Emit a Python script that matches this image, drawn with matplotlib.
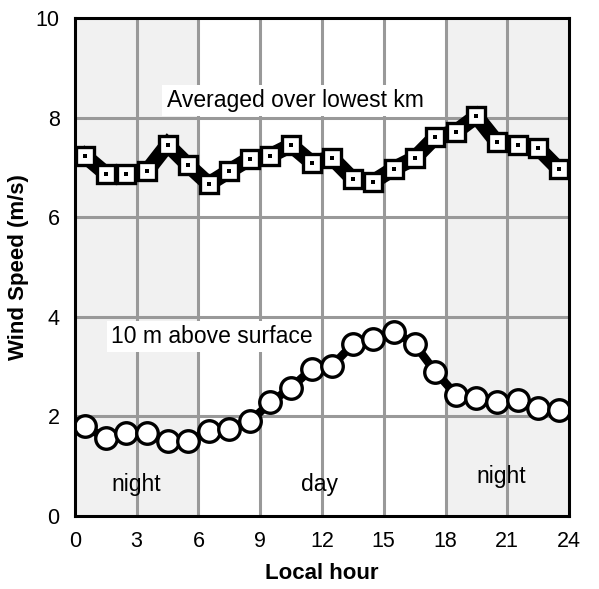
import numpy as np
import matplotlib.pyplot as plt

plt.rcParams['font.family'] = ['Liberation Sans', 'DejaVu Sans']

hours = np.arange(0.5, 24, 1.0)
avg_km = [7.23, 6.88, 6.88, 6.93, 7.46, 7.05, 6.67, 6.93, 7.18, 7.24, 7.45, 7.10,
          7.19, 6.77, 6.72, 6.98, 7.19, 7.61, 7.72, 8.03, 7.51, 7.45, 7.39, 6.97]
surface_10m = [1.80, 1.56, 1.66, 1.66, 1.50, 1.50, 1.70, 1.75, 1.90, 2.28, 2.58, 2.95,
               3.02, 3.45, 3.55, 3.70, 3.45, 2.90, 2.44, 2.38, 2.29, 2.33, 2.17, 2.12]
night_spans = [(0, 6), (18, 24)]
xticks = [0, 3, 6, 9, 12, 15, 18, 21, 24]
yticks = [0, 2, 4, 6, 8, 10]

fig = plt.figure(figsize=(5.99, 5.89), dpi=100)
ax = fig.add_axes([0.125, 0.124, 0.825, 0.845])

for a, b in night_spans:
    ax.axvspan(a, b, color='#f1f1f1', zorder=0, lw=0)

for x in xticks[1:-1]:
    ax.axvline(x, color='#999999', lw=2.2, zorder=1)
for y in yticks[1:-1]:
    ax.axhline(y, color='#999999', lw=2.2, zorder=1)

# upper series: thick line, white squares with a dot
ax.plot(hours, avg_km, color='black', lw=11, solid_joinstyle='miter', zorder=3)
ax.plot(hours, avg_km, ls='none', marker='s', ms=12.5, mfc='white', mec='black',
        mew=2.4, zorder=4)
ax.plot(hours, avg_km, ls='none', marker='s', ms=3, mfc='black', mec='black',
        mew=0, zorder=5)

# lower series: line with open circles
ax.plot(hours, surface_10m, color='black', lw=6, zorder=3)
ax.plot(hours, surface_10m, ls='none', marker='o', ms=15.5, mfc='white', mec='black',
        mew=2.4, zorder=4)

ax.text(4.45, 8.35, 'Averaged over lowest km', fontsize=16.5, va='center', ha='left',
        bbox=dict(facecolor='white', edgecolor='none', pad=3), zorder=6)
ax.text(1.75, 3.6, '10 m above surface', fontsize=16.5, va='center', ha='left',
        bbox=dict(facecolor='white', edgecolor='none', pad=3), zorder=6)
ax.text(2.96, 0.64, 'night', fontsize=16.5, ha='center', va='center', zorder=6)
ax.text(11.9, 0.64, 'day', fontsize=16.5, ha='center', va='center', zorder=6)
ax.text(20.7, 0.8, 'night', fontsize=16.5, ha='center', va='center', zorder=6)

ax.set_xlim(0, 24)
ax.set_ylim(0, 10)
ax.set_xticks(xticks)
ax.set_yticks(yticks)
ax.tick_params(axis='x', length=0, labelsize=15.5, pad=11)
ax.tick_params(axis='y', length=0, labelsize=15.5, pad=11)
ax.set_xlabel('Local hour', fontsize=16, fontweight='bold', labelpad=8)
ax.set_ylabel('Wind Speed (m/s)', fontsize=16, fontweight='bold', labelpad=5)
for s in ax.spines.values():
    s.set_linewidth(2.2)
    s.set_zorder(7)

fig.savefig('out.png', dpi=100)
